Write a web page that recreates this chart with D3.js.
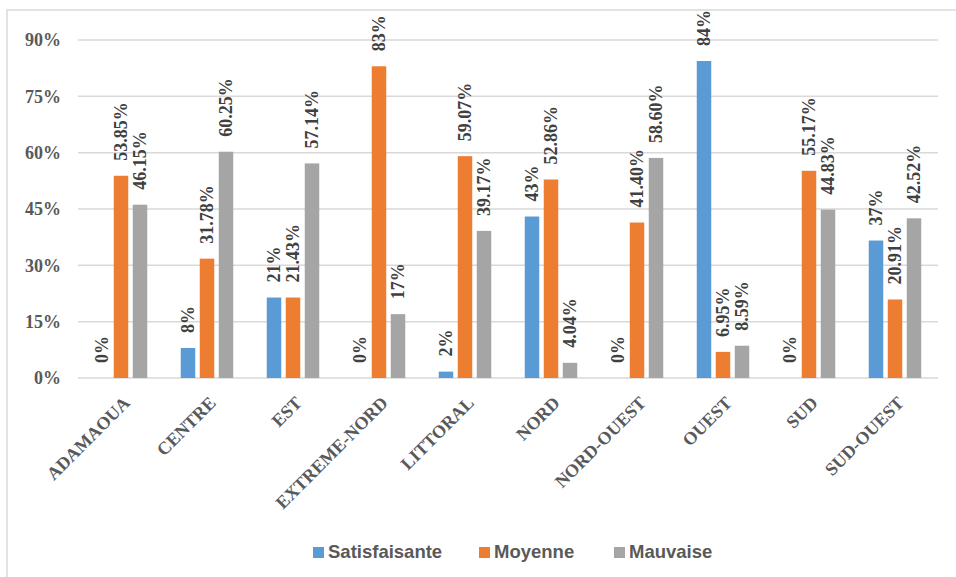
<!DOCTYPE html>
<html>
<head>
<meta charset="utf-8">
<script src="https://cdn.jsdelivr.net/npm/d3@7"></script>
<style>
  body { margin: 0; background: #fff; }
  svg text { font-family: 'Liberation Serif', Tinos, 'Times New Roman', 'DejaVu Serif', serif; font-weight: bold; }
  svg .legend text { font-family: 'Liberation Sans', Arimo, Arial, sans-serif; }
</style>
</head>
<body>
<svg id="chart" width="956" height="577"></svg>
<script>
// regions
const categories = ['ADAMAOUA', 'CENTRE', 'EST', 'EXTREME-NORD', 'LITTORAL',
    'NORD', 'NORD-OUEST', 'OUEST', 'SUD', 'SUD-OUEST'];
const seriesNames = ['Satisfaisante', 'Moyenne', 'Mauvaise'];
// percentages
const satisfaisante = [0, 8, 21.43, 0, 1.7, 43, 0, 84.4, 0, 36.6];
const moyenne = [53.85, 31.78, 21.43, 83, 59.07, 52.86, 41.40, 6.95, 55.17, 20.91];
const mauvaise = [46.15, 60.25, 57.14, 17, 39.17, 4.04, 58.60, 8.59, 44.83, 42.52];
const yTicks = [0, 15, 30, 45, 60, 75, 90];

const COLORS = ['#5B9BD5', '#ED7D31', '#A5A5A5'];
const values = [satisfaisante, moyenne, mauvaise];

// blue labels are rounded, others keep two decimals unless whole
const labelFmt = [
    v => Math.round(v) + '%',
    v => (Number.isInteger(v) ? v : v.toFixed(2)) + '%',
    v => (Number.isInteger(v) ? v : v.toFixed(2)) + '%'
];

const svg = d3.select('#chart');

// chart frame (only top and left edges visible)
svg.append('path')
    .attr('d', 'M7,577 V10 H956')
    .attr('fill', 'none')
    .attr('stroke', '#d9d9d9')
    .attr('stroke-width', 1.5);

const x0 = d3.scaleBand().domain(categories).range([78, 938]);
const x1 = d3.scaleBand().domain(seriesNames).range([-26.25, 26.25]).paddingInner(0.237);
const y = d3.scaleLinear().domain([0, 90]).range([378, 40]);

// gridlines
svg.append('g')
    .selectAll('line')
    .data(yTicks)
    .enter()
    .append('line')
    .attr('x1', 78).attr('x2', 938)
    .attr('y1', d => y(d)).attr('y2', d => y(d))
    .attr('stroke', '#d9d9d9')
    .attr('stroke-width', 1.5);

// y axis labels
svg.append('g')
    .selectAll('text')
    .data(yTicks)
    .enter()
    .append('text')
    .attr('x', 61)
    .attr('y', d => y(d))
    .attr('dy', '0.35em')
    .attr('text-anchor', 'end')
    .attr('font-size', 18)
    .attr('fill', '#595959')
    .text(d => d + '%');

// bars
const rows = [];
seriesNames.forEach((s, si) => {
    categories.forEach((c, ci) => {
        rows.push({ s: s, si: si, c: c, v: values[si][ci] });
    });
});

const cx = d => x0(d.c) + x0.bandwidth() / 2 + x1(d.s);

svg.append('g')
    .selectAll('rect')
    .data(rows)
    .enter()
    .append('rect')
    .attr('x', d => cx(d))
    .attr('y', d => y(d.v))
    .attr('width', x1.bandwidth())
    .attr('height', d => y(0) - y(d.v))
    .attr('fill', d => COLORS[d.si]);

// value labels
svg.append('g')
    .selectAll('text')
    .data(rows)
    .enter()
    .append('text')
    .attr('transform', d => 'translate(' + (cx(d) + x1.bandwidth() / 2) + ',' + (y(d.v) - 15) + ') rotate(-90)')
    .attr('dy', '0.35em')
    .attr('font-size', 18)
    .attr('fill', '#404040')
    .text(d => labelFmt[d.si](d.v));

// category labels
svg.append('g')
    .selectAll('text')
    .data(categories)
    .enter()
    .append('text')
    .attr('transform', d => 'translate(' + (x0(d) + x0.bandwidth() / 2 + 10) + ',404) rotate(-45)')
    .attr('text-anchor', 'end')
    .attr('font-size', 18)
    .attr('fill', '#595959')
    .text(d => d);

// legend
const legendX = [313, 479, 614];
const legend = svg.append('g').attr('class', 'legend')
    .selectAll('g')
    .data(seriesNames)
    .enter()
    .append('g')
    .attr('transform', (d, i) => 'translate(' + legendX[i] + ',547)');

legend.append('rect')
    .attr('width', 11).attr('height', 11)
    .attr('fill', (d, i) => COLORS[i]);

legend.append('text')
    .attr('x', 15)
    .attr('y', 11)
    .attr('font-size', 18.5)
    .attr('fill', '#595959')
    .text(d => d);
</script>
</body>
</html>
